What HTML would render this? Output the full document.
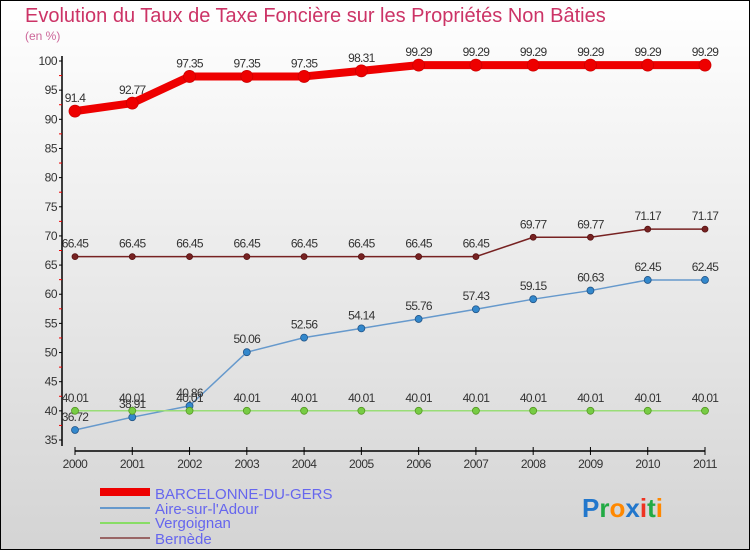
<!DOCTYPE html>
<html><head><meta charset="utf-8"><style>
body{margin:0;}
svg text{font-family:"Liberation Sans",sans-serif;}
</style></head><body>
<svg id="c" width="750" height="550" xmlns="http://www.w3.org/2000/svg">
<defs><linearGradient id="bg" x1="0" y1="0" x2="0" y2="1"><stop offset="0" stop-color="#ffffff"/><stop offset="1" stop-color="#d4d4d4"/></linearGradient></defs>
<rect x="0.5" y="0.5" width="749" height="549" fill="url(#bg)" stroke="#000"/>
<text x="25" y="22" font-size="20" fill="#cc3366">Evolution du Taux de Taxe Foncière sur les Propriétés Non Bâties</text>
<text x="25" y="40" font-size="12" fill="#cc6699">(en %)</text>
<g id="axes"></g><g id="series"></g>
<g>
<rect x="100" y="488" width="50" height="8" fill="#ee0000"/>
<text x="155" y="499" font-size="15" fill="#6666ee">BARCELONNE-DU-GERS</text>
<rect x="100" y="507" width="50" height="2" fill="#6699cc"/>
<text x="155" y="514" font-size="15" fill="#6666ee">Aire-sur-l'Adour</text>
<rect x="100" y="522" width="50" height="2" fill="#88dd66"/>
<text x="155" y="528" font-size="15" fill="#6666ee">Vergoignan</text>
<rect x="100" y="537" width="50" height="2" fill="#996666"/>
<text x="155" y="544" font-size="15" fill="#6666ee">Bernède</text>
</g>
<text x="582" y="517" font-size="26" font-weight="bold"><tspan fill="#2277cc">P</tspan><tspan fill="#22aa44">r</tspan><tspan fill="#ff8800">o</tspan><tspan fill="#2277cc">x</tspan><tspan fill="#ee3322">i</tspan><tspan fill="#22aa44">t</tspan><tspan fill="#ff8800">i</tspan></text>
</svg>
<script>
const years=[2000,2001,2002,2003,2004,2005,2006,2007,2008,2009,2010,2011];
const barcelonne=[91.4,92.77,97.35,97.35,97.35,98.31,99.29,99.29,99.29,99.29,99.29,99.29];
const aire=[36.72,38.91,40.86,50.06,52.56,54.14,55.76,57.43,59.15,60.63,62.45,62.45];
const vergoignan=[40.01,40.01,40.01,40.01,40.01,40.01,40.01,40.01,40.01,40.01,40.01,40.01];
const bernede=[66.45,66.45,66.45,66.45,66.45,66.45,66.45,66.45,69.77,69.77,71.17,71.17];
const yTicks=[35,40,45,50,55,60,65,70,75,80,85,90,95,100];
const NS="http://www.w3.org/2000/svg";
const X=i=>75+i*(705-75)/(years.length-1);
const Y=v=>440-(v-35)*(440-61)/65;
function mk(t,a,p){const e=document.createElementNS(NS,t);for(const k in a)e.setAttribute(k,a[k]);p.appendChild(e);return e;}
const ax=document.getElementById('axes');
let l=mk('line',{x1:62,y1:56,x2:62,y2:446,stroke:'#000','stroke-width':1.5},ax);


l=mk('line',{x1:75,y1:451,x2:705,y2:451,stroke:'#000','stroke-width':1.5},ax);


yTicks.forEach(v=>{
 mk('line',{x1:59,y1:Y(v),x2:62,y2:Y(v),stroke:'#000'},ax);
 if(v<100)mk('line',{x1:59,y1:Y(v+2.5),x2:62,y2:Y(v+2.5),stroke:'#e00'},ax);
 const t=mk('text',{x:57,y:Y(v)+4,'font-size':12,'text-anchor':'end',fill:'#333','letter-spacing':'-0.5'},ax);
 t.textContent=v;
 
 
});
years.forEach((y,i)=>{
 mk('line',{x1:X(i),y1:447,x2:X(i),y2:455,stroke:'#000'},ax);
 const t=mk('text',{x:X(i),y:468,'font-size':12,'text-anchor':'middle',fill:'#333','letter-spacing':'-0.5'},ax);
 t.textContent=y;
 
 
});
const sg=document.getElementById('series');
function series(name,vals,color,w,r,dot,stroke){
 const g=mk('g',{},sg);
 
 
 const p=mk('polyline',{points:vals.map((v,i)=>X(i)+','+Y(v)).join(' '),fill:'none',stroke:color,'stroke-width':w,'stroke-linejoin':'round'},g);
 
 
 vals.forEach((v,i)=>{
  const c=mk('circle',{cx:X(i),cy:Y(v),r:r,fill:dot,stroke:stroke,'stroke-width':0.8},g);
  
  
  const t=mk('text',{x:X(i),y:Y(v)-9,'font-size':12,'text-anchor':'middle',fill:'#333','letter-spacing':'-0.7'},g);
  t.textContent=String(v);
  
  
 });
}
series('bernede',bernede,'#772222',1.5,3,'#772222','#551111');
series('aire',aire,'#6699cc',1.5,3.5,'#3388cc','#225588');
series('vergoignan',vergoignan,'#99dd77',1.5,3.5,'#77cc44','#559922');
series('barcelonne',barcelonne,'#ee0000',8,6,'#ee0000','#cc0000');
</script>
</body></html>
